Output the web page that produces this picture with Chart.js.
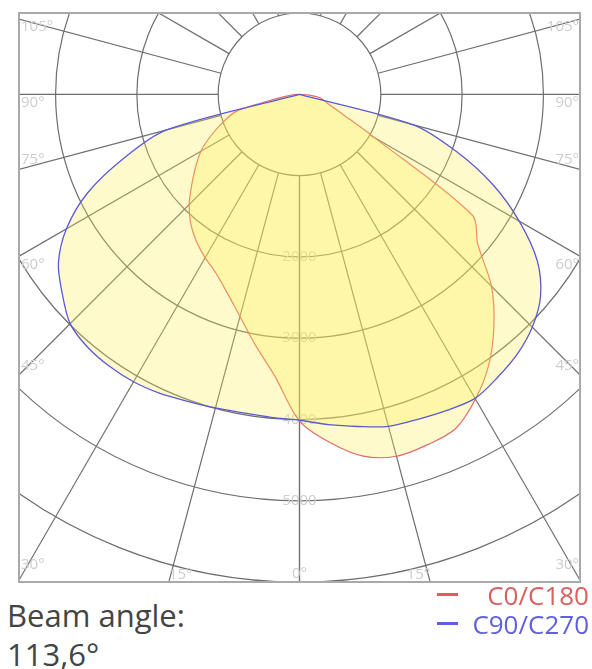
<!DOCTYPE html>
<html>
<head>
<meta charset="utf-8">
<script src="https://cdn.jsdelivr.net/npm/chart.js@4.4.0/dist/chart.umd.min.js"></script>
<style>
  body { margin: 0; background: #fff; width: 592px; height: 669px; position: relative; overflow: hidden;
         font-family: "Open Sans", sans-serif; }
  #wrap { position: absolute; left: 0; top: 0; width: 592px; height: 590px; }
  #beam { position: absolute; left: 7px; top: 596px; font-size: 31px; line-height: 39px; color: #444; }
  .row { position: absolute; right: 3px; font-size: 26px; line-height: 29px; white-space: nowrap; }
  .dash { position: absolute; left: 437px; width: 21px; height: 3px; }
</style>
</head>
<body>
<div id="wrap"><canvas id="chart" width="592" height="590"></canvas></div>

<div id="beam">Beam angle:<br>113,6°</div>
<div class="dash" style="top:593px; background:#e05c5c;"></div>
<div class="row" style="top:581px; color:#d8605e;">C0/C180</div>
<div class="dash" style="top:622px; background:#5f5fe0;"></div>
<div class="row" style="top:610px; color:#6060dc;">C90/C270</div>

<script>
// gamma angles (deg from nadir) and intensities in cd
const angles = [0, 5, 10, 15, 20, 25, 30, 35, 40, 45, 50, 55, 60, 65, 70, 75, 80, 85, 90];
const c0   = [4020, 4300, 4520, 4610, 4590, 4540, 4330, 4060, 3720, 3340, 2860, 2600, 1060, 600, 410, 320, 260, 120, 0];
const c180 = [4020, 3480, 3130, 2830, 2600, 2430, 2320, 2210, 2080, 1920, 1730, 1560, 1400, 1200, 1000, 800, 250, 80, 0];
const c90  = [4010, 4080, 4150, 4230, 4255, 4290, 4320, 4250, 4170, 4050, 3870, 3570, 3120, 2620, 2050, 1450, 0, 0, 0];
const c270 = [4010, 3990, 3980, 3995, 4020, 4060, 4084, 4082, 4058, 3990, 3810, 3620, 3310, 2880, 2300, 1700, 0, 0, 0];

const rings = [1000, 2000, 3000, 4000, 5000, 6000, 7000];
const ringLabels = [2000, 3000, 4000, 5000];
const spokes = [0, 15, 30, 45, 60, 75, 90, 105, 120, 135, 150, 165, 180];
const sideLabels = ['105°', '90°', '75°', '60°', '45°', '30°'];
const bottomLabels = ['15°', '0°', '15°'];

const rad = d => d * Math.PI / 180;

// left half goes from 90 down to 0, right half from 0 up to 90
function curve(left, right) {
  const pts = [];
  for (let i = angles.length - 1; i >= 0; i--) {
    pts.push({ x: -left[i] * Math.sin(rad(angles[i])), y: -left[i] * Math.cos(rad(angles[i])) });
  }
  for (let i = 1; i < angles.length; i++) {
    pts.push({ x: right[i] * Math.sin(rad(angles[i])), y: -right[i] * Math.cos(rad(angles[i])) });
  }
  return pts;
}

const polarGrid = {
  id: 'polarGrid',
  beforeDatasetsDraw(chart) {
    const { ctx, chartArea: a, scales: { x, y } } = chart;
    const cx = x.getPixelForValue(0), cy = y.getPixelForValue(0);
    const k = x.getPixelForValue(1000) - cx;

    ctx.save();
    ctx.beginPath();
    ctx.rect(a.left, a.top, a.right - a.left, a.bottom - a.top);
    ctx.clip();
    ctx.strokeStyle = '#6e6e6e';
    ctx.lineWidth = 1.2;
    rings.forEach(v => {
      ctx.beginPath();
      ctx.arc(cx, cy, v / 1000 * k, 0, Math.PI * 2);
      ctx.stroke();
    });
    spokes.forEach(d => {
      [-1, 1].forEach(s => {
        const sn = Math.sin(rad(d)) * s, cs = Math.cos(rad(d));
        ctx.beginPath();
        ctx.moveTo(cx + sn * k, cy + cs * k);
        ctx.lineTo(cx + sn * k * 10, cy + cs * k * 10);
        ctx.stroke();
      });
    });

    ctx.fillStyle = '#cdcdcd';
    ctx.font = '15px "Open Sans"';
    ctx.textBaseline = 'middle';
    ctx.textAlign = 'center';
    ringLabels.forEach(v => ctx.fillText(String(v), cx, y.getPixelForValue(-v)));

    // angle labels along the frame
    const sideY = [27, 103, 160, 265, 366, 565];
    sideLabels.forEach((t, i) => {
      ctx.textAlign = 'left';
      ctx.fillText(t, a.left + 2, sideY[i]);
      ctx.textAlign = 'right';
      ctx.fillText(t, a.right - 1, sideY[i]);
    });
    const bx = (a.bottom - cy) * Math.tan(rad(15));
    ctx.textAlign = 'left';
    ctx.fillText(bottomLabels[0], cx - bx, a.bottom - 7);
    ctx.textAlign = 'center';
    ctx.fillText(bottomLabels[1], cx, a.bottom - 8);
    ctx.textAlign = 'right';
    ctx.fillText(bottomLabels[2], cx + bx, a.bottom - 7);
    ctx.restore();

    ctx.save();
    ctx.strokeStyle = '#a9a9a9';
    ctx.lineWidth = 2;
    ctx.strokeRect(a.left, a.top, a.right - a.left, a.bottom - a.top);
    ctx.restore();
  }
};

new Chart(document.getElementById('chart'), {
  type: 'scatter',
  data: {
    datasets: [
      {
        label: 'C90/C270',
        data: curve(c270, c90),
        showLine: true,
        fill: 'shape',
        borderColor: '#5a5ad6',
        borderWidth: 1.3,
        backgroundColor: 'rgba(255, 238, 80, 0.29)',
        pointRadius: 0,
        tension: 0.3
      },
      {
        label: 'C0/C180',
        data: curve(c180, c0),
        showLine: true,
        fill: 'shape',
        borderColor: '#e06a6a',
        borderWidth: 1.2,
        backgroundColor: 'rgba(255, 238, 80, 0.29)',
        pointRadius: 0,
        tension: 0.3
      }
    ]
  },
  options: {
    responsive: false,
    animation: false,
    devicePixelRatio: 1,
    layout: { padding: { left: 19, top: 13, right: 12, bottom: 8 } },
    scales: {
      x: { type: 'linear', display: false, min: -3450, max: 3450 },
      y: { type: 'linear', display: false, min: -6000, max: 1000 }
    },
    plugins: { legend: { display: false }, tooltip: { enabled: false } }
  },
  plugins: [polarGrid]
});
</script>
</body>
</html>
